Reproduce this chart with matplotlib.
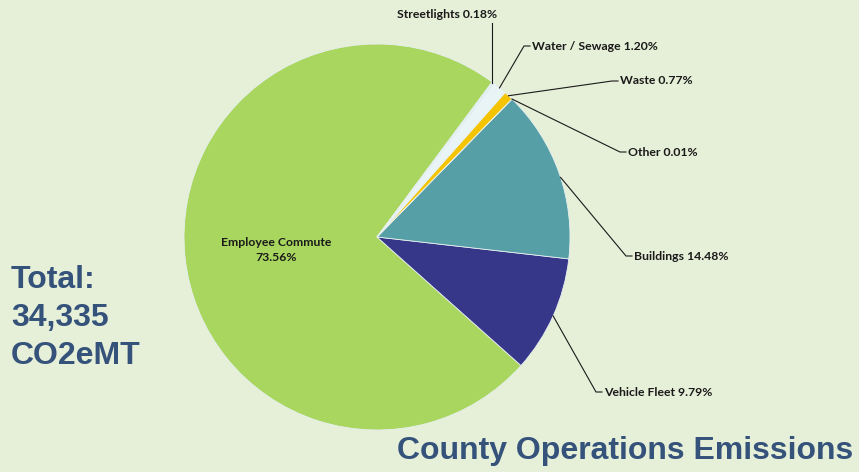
import numpy as np
import matplotlib
matplotlib.use('Agg')
import matplotlib.pyplot as plt

# slices, counterclockwise from the top edge of the big slice
categories = ['Employee Commute', 'Vehicle Fleet', 'Buildings', 'Other',
              'Waste', 'Water / Sewage', 'Streetlights']
shares = [73.56, 9.79, 14.48, 0.01, 0.77, 1.20, 0.18]
colors = ['#A8D65E', '#363789', '#569FA6', '#7F7F7F',
          '#F5C400', '#E8F4F6', '#DDEFF2']

total_label = 'Total:\n34,335\nCO2eMT'
title = 'County Operations Emissions'

bg = '#E6EFD8'
blue = '#34527A'

fig = plt.figure(figsize=(8.59, 4.72), dpi=100, facecolor=bg)
ax = fig.add_axes([0, 0, 1, 1])
ax.set_facecolor(bg)

cx, cy, r = 377, 235, 193
wedges, _ = ax.pie(shares, colors=colors, startangle=53.4, counterclock=True,
                   center=(cx, cy), radius=r, frame=True,
                   wedgeprops=dict(edgecolor='#E8F0F0', linewidth=0.6))
ax.set_xlim(0, 859)
ax.set_ylim(0, 472)
ax.set_aspect('equal')
ax.axis('off')

# label positions (text anchor) for the outside labels
label_pos = {
    'Vehicle Fleet': (604, 80),
    'Buildings': (634, 216),
    'Other': (628, 320),
    'Waste': (620, 391),
    'Water / Sewage': (532, 426),
    'Streetlights': (497, 457),
}
# where along the arc the leader line starts (fraction of the wedge)
anchor_frac = {'Vehicle Fleet': 0.5, 'Buildings': 0.47, 'Other': 0.5,
               'Waste': 0.5, 'Water / Sewage': 0.5, 'Streetlights': 0.5}

lab_font = dict(family='Lato', weight='bold', fontsize=8.8, color='#1A1A1A')

for w, name, val in zip(wedges, categories, shares):
    txt = f'{name} {val:.2f}%'
    if name == 'Employee Commute':
        ax.text(276, 222, f'{name}\n{val:.2f}%', ha='center', va='center',
                linespacing=1.5, **lab_font)
        continue
    f = anchor_frac[name]
    ang = np.deg2rad(w.theta1 + f * (w.theta2 - w.theta1))
    x0, y0 = cx + r * np.cos(ang), cy + r * np.sin(ang)
    tx, ty = label_pos[name]
    if name == 'Streetlights':
        ax.plot([x0 - 1, x0 - 1], [y0, ty - 8], color='#1A1A1A', lw=0.8)
        ax.text(tx, ty, txt, ha='right', va='center', **lab_font)
    else:
        ax.plot([x0, tx - 8, tx - 2], [y0, ty, ty], color='#1A1A1A', lw=0.8)
        ax.text(tx, ty, txt, ha='left', va='center', **lab_font)

ax.text(11, 154, total_label, ha='left', va='center', color=blue,
        fontsize=23, weight='bold', family='Liberation Sans', linespacing=1.33)
ax.text(853, 21, title, ha='right', va='center', color=blue,
        fontsize=23, weight='bold', family='Liberation Sans')

fig.savefig('out.png', dpi=100, facecolor=bg)
